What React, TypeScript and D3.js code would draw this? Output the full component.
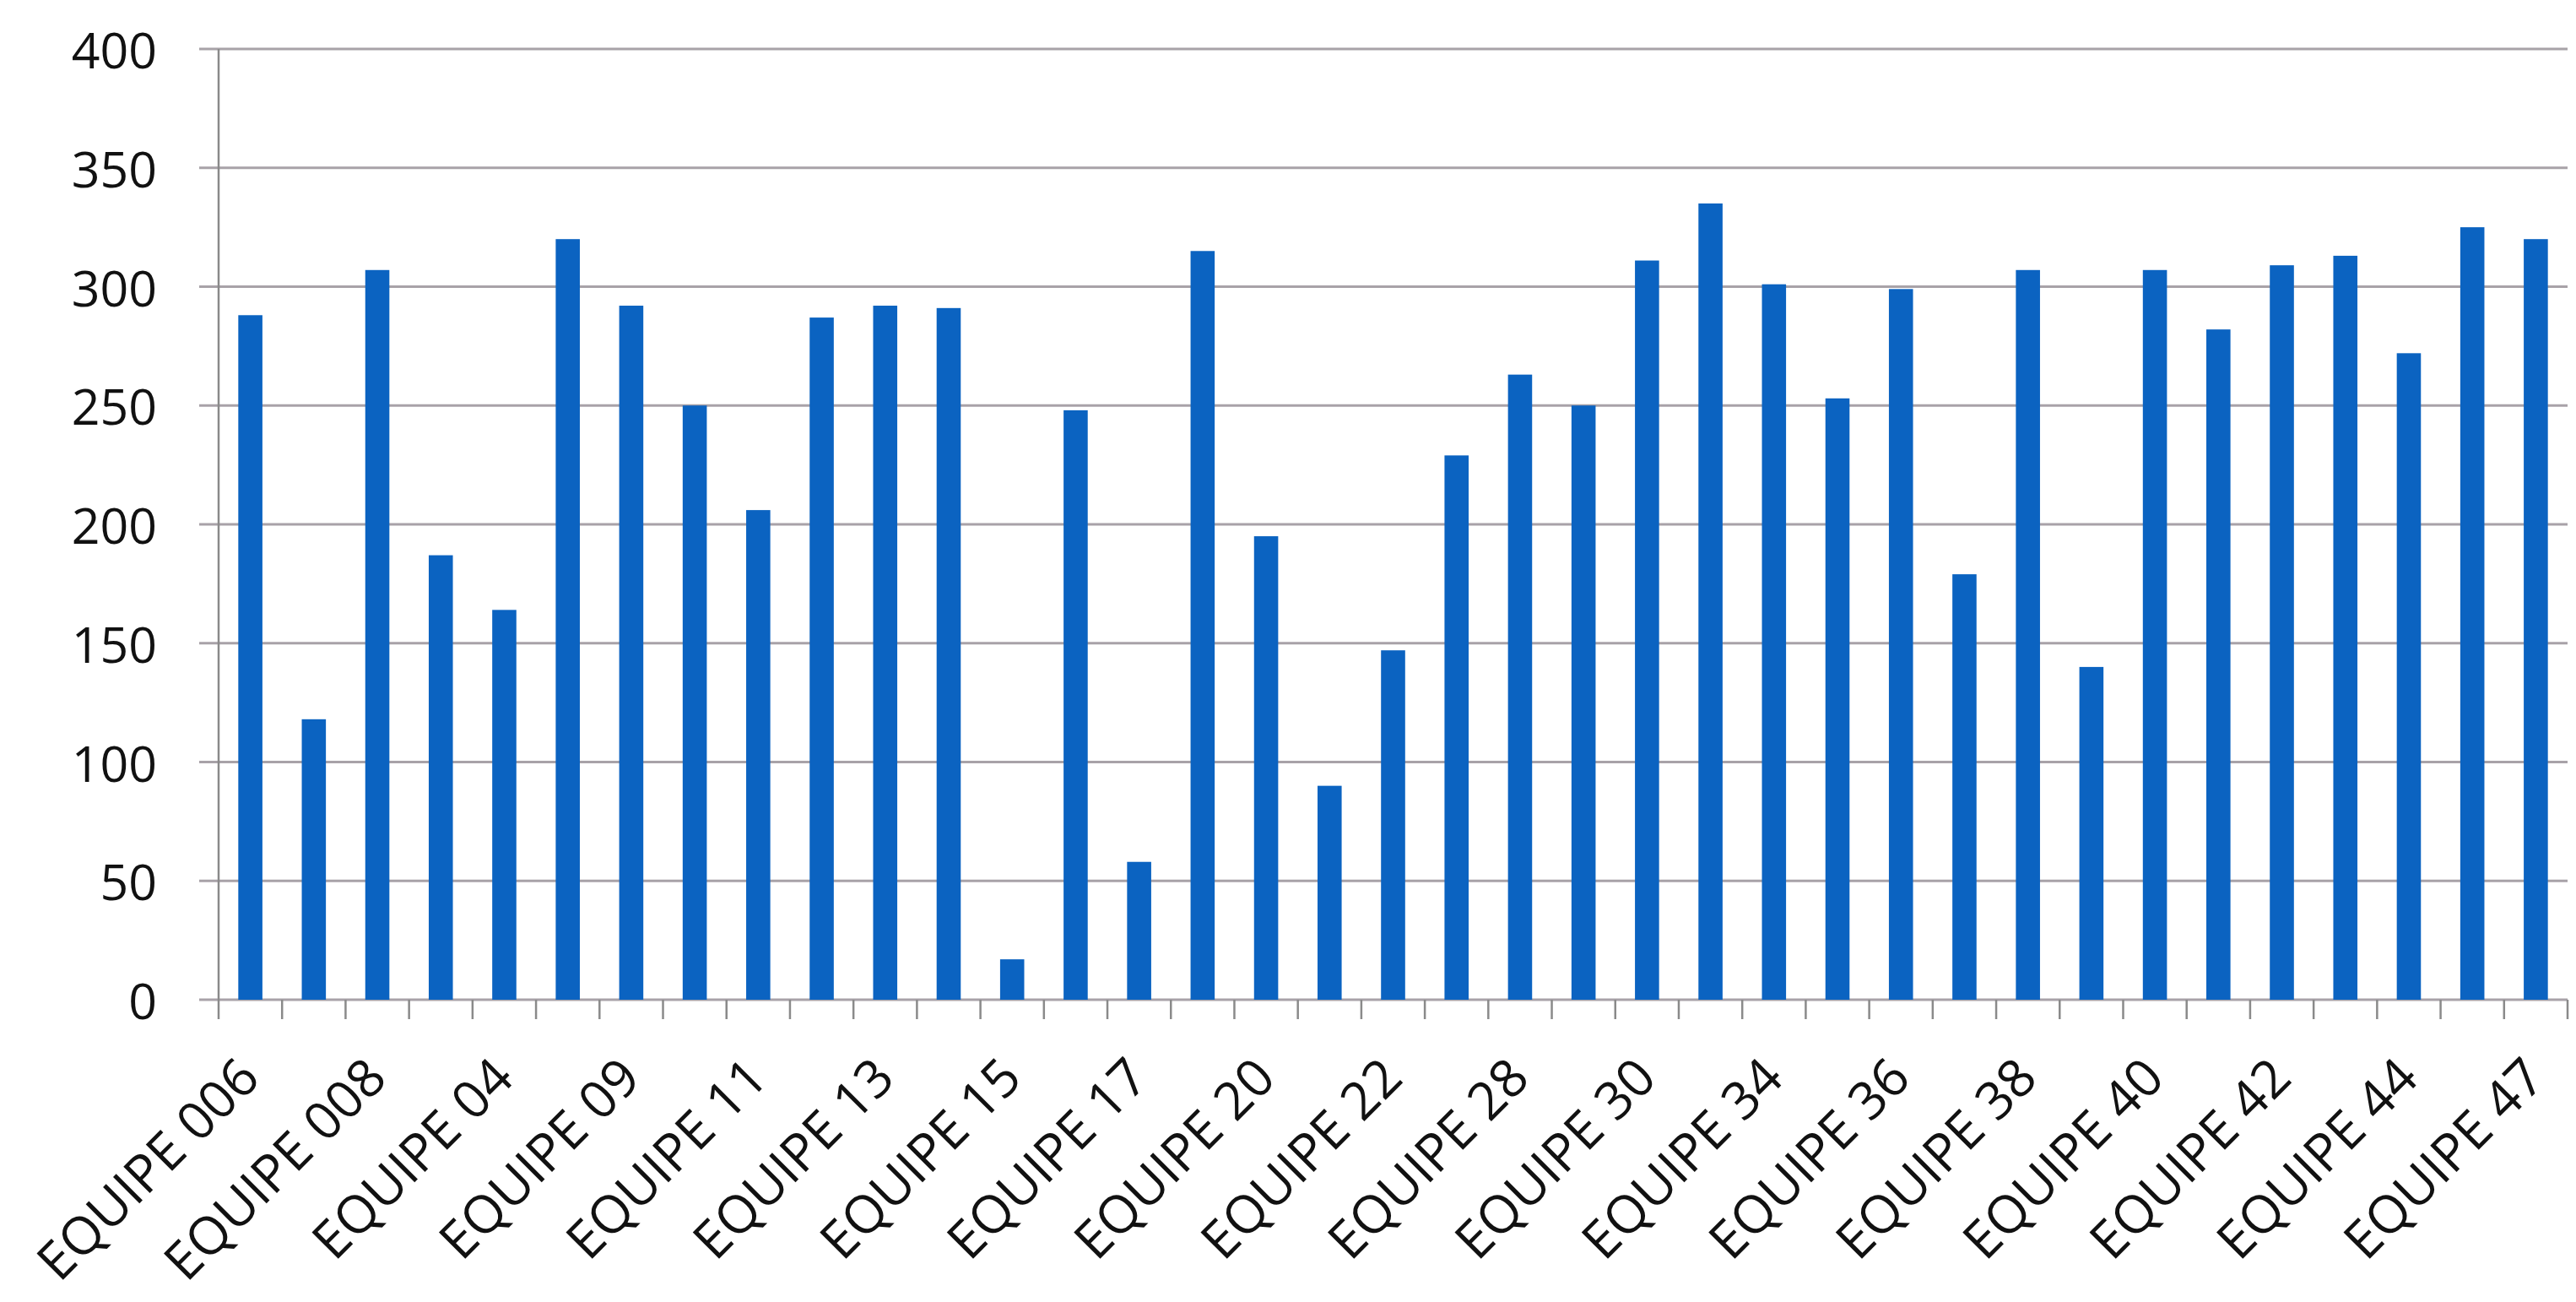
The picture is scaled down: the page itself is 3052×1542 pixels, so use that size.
import React from "react";
import * as d3 from "d3";

const categories: string[] = [
  "EQUIPE 006", "EQUIPE 007", "EQUIPE 008", "EQUIPE 02", "EQUIPE 04", "EQUIPE 08",
  "EQUIPE 09", "EQUIPE 10", "EQUIPE 11", "EQUIPE 12", "EQUIPE 13", "EQUIPE 14",
  "EQUIPE 15", "EQUIPE 16", "EQUIPE 17", "EQUIPE 18", "EQUIPE 20", "EQUIPE 21",
  "EQUIPE 22", "EQUIPE 25", "EQUIPE 28", "EQUIPE 29", "EQUIPE 30", "EQUIPE 31",
  "EQUIPE 34", "EQUIPE 35", "EQUIPE 36", "EQUIPE 37", "EQUIPE 38", "EQUIPE 39",
  "EQUIPE 40", "EQUIPE 41", "EQUIPE 42", "EQUIPE 43", "EQUIPE 44", "EQUIPE 46",
  "EQUIPE 47",
];

const values: number[] = [
  288, 118, 307, 187, 164, 320, 292, 250, 206, 287, 292, 291, 17,
  248, 58, 315, 195, 90, 147, 229, 263, 250, 311, 335, 301, 253,
  299, 179, 307, 140, 307, 282, 309, 313, 272, 325, 320,
];

const yTicks: number[] = [0, 50, 100, 150, 200, 250, 300, 350, 400];

const W = 3052;
const H = 1542;
const left = 259;
const right = 3042;
const top = 58;
const bottom = 1184;

export default function App() {
  const x = d3
    .scaleBand<string>()
    .domain(categories)
    .range([left, right])
    .paddingInner(0.62)
    .paddingOuter(0.31);
  const y = d3.scaleLinear().domain([0, 400]).range([bottom, top]);
  const step = x.step();
  const font = "'Open Sans', 'Noto Sans', sans-serif";

  return (
    <svg
      width={W}
      height={H}
      style={{ position: "absolute", left: 0, top: 0, background: "#fff" }}
    >
      <rect x={0} y={0} width={W} height={H} fill="#fff" />
      {yTicks.map((t) => (
        <g key={t}>
          <line
            x1={left - 23}
            x2={right}
            y1={y(t)}
            y2={y(t)}
            stroke="#a8a2a8"
            strokeWidth={3}
          />
          <text
            x={186}
            y={y(t)}
            textAnchor="end"
            dominantBaseline="central"
            fontFamily={font}
            fontSize={59}
            fill="#111"
          >
            {t}
          </text>
        </g>
      ))}
      <line x1={left} x2={left} y1={top} y2={bottom + 23} stroke="#8a8a8a" strokeWidth={2.5} />
      {categories.map((c, i) => (
        <line
          key={"t" + c}
          x1={left + step * (i + 1)}
          x2={left + step * (i + 1)}
          y1={bottom}
          y2={bottom + 23}
          stroke="#8a8a8a"
          strokeWidth={2.5}
        />
      ))}
      {categories.map((c, i) => (
        <rect
          key={c}
          x={x(c)}
          y={y(values[i])}
          width={x.bandwidth()}
          height={bottom - y(values[i])}
          fill="#0b63c1"
        />
      ))}
      {categories.map((c, i) =>
        i % 2 === 0 ? (
          <text
            key={"l" + c}
            transform={`translate(${(x(c) as number) + x.bandwidth() / 2 + 14},${1280}) rotate(-45)`}
            textAnchor="end"
            fontFamily={font}
            fontSize={62}
            fill="#111"
          >
            {c}
          </text>
        ) : null
      )}
    </svg>
  );
}
